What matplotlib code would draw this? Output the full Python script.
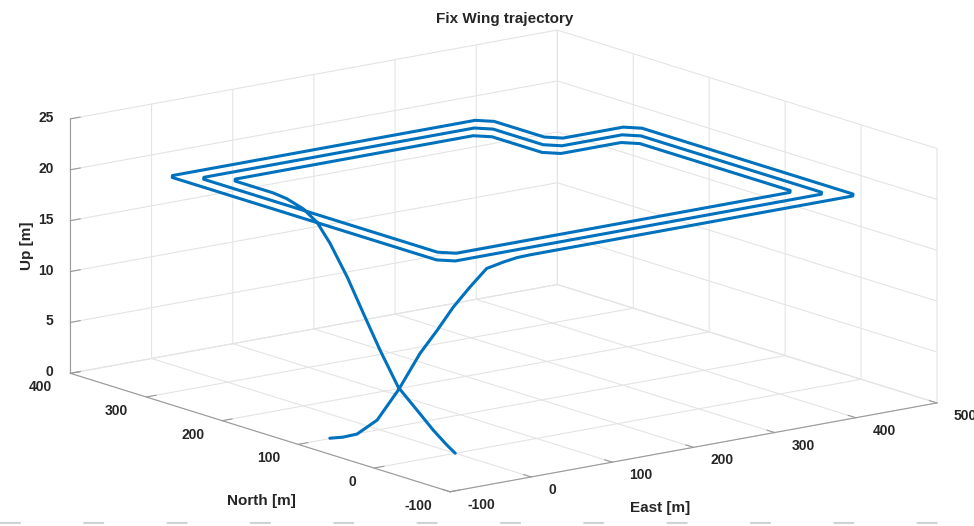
import numpy as np
import matplotlib
matplotlib.use('Agg')
from matplotlib import pyplot as plt
from matplotlib.lines import Line2D
from matplotlib.ticker import NullFormatter

# Fix wing trajectory: take-off climb, three nested laps at cruise height, landing descent
# East / North / Up in metres

climb_east = [-60, -53.6, -46.9, -37.2, -26.6, -16.4, -8.2, -0.5, 7.5, 15.7, 22, 32, 45]
climb_north = [101, 90.4, 79.3, 63.1, 45.6, 28.7, 15.1, 2.2, -11.1, -24.6, -40, -47, -50]
climb_up = [0, 0.26, 0.72, 2.33, 5.64, 9.4, 11.84, 14.3, 16.46, 18.5, 19.4, 19.85, 20]

# lap corners, each corner cut a little as the plane turns
cruise_up = 20
outer_east = [443, 448, 448, 436, 362, 350, 350, 338, -35, -40, -40, -28]
outer_north = [-50, -45, 233, 245, 245, 257, 323, 335, 335, 330, -18, -30]
middle_east = [423, 428, 428, 416, 342, 330, 330, 318, -15, -20, -20, -8]
middle_north = [-30, -25, 213, 225, 225, 237, 303, 315, 315, 310, 2, -10]
inner_east = [403, 408, 408, 396, 322, 310, 310, 298, 5, 0, 0]
inner_north = [-10, -5, 193, 205, 205, 217, 283, 295, 295, 290, 240]

descent_east = [0, 0, 0, 0, 0, 0, 0, 0, 0, 0, 0, 0]
descent_north = [222, 200, 182, 165, 142, 121, 99, 75, 50, 29, 11, 0]
descent_up = [19.85, 19.35, 18.45, 16.8, 13.97, 10.93, 7.82, 4.74, 3.04, 1.6, 0.55, 0]

east_ticks = [-100, 0, 100, 200, 300, 400, 500]
north_ticks = [-100, 0, 100, 200, 300, 400]
up_ticks = [0, 5, 10, 15, 20, 25]


def build_path():
    laps_e = outer_east + middle_east + inner_east
    laps_n = outer_north + middle_north + inner_north
    e = climb_east + laps_e + descent_east
    n = climb_north + laps_n + descent_north
    u = climb_up + [cruise_up] * len(laps_e) + descent_up
    return e, n, u


plt.rcParams['font.family'] = ['Liberation Sans', 'DejaVu Sans']
plt.rcParams['font.weight'] = 'bold'
plt.rcParams['axes.unicode_minus'] = False

W, H = 974, 526
fig = plt.figure(figsize=(W / 100, H / 100), dpi=100)
ax = fig.add_axes([0.05, 0.0, 0.9, 1.0], projection='3d', proj_type='ortho')
ax.view_init(elev=13.8, azim=-127.4)
ax.set_xlim(-100, 500)
ax.set_ylim(-100, 400)
ax.set_zlim(0, 25)
ax.set_box_aspect((613, 625, 262))

e, n, u = build_path()
ax.plot(e, n, u, color='#0072BD', lw=2.2, solid_joinstyle='round', solid_capstyle='round')

ax.set_xticks(east_ticks)
ax.set_yticks(north_ticks)
ax.set_zticks(up_ticks)
for axis in (ax.xaxis, ax.yaxis, ax.zaxis):
    axis.set_pane_color((1, 1, 1, 0))
    axis.pane.set_edgecolor('#e2e2e2')
    axis.line.set_color('#9a9a9a')
    axis.line.set_linewidth(0.8)
    axis._axinfo['grid'].update(color='#e4e4e4', linewidth=0.8)
    axis._axinfo['tick'].update(inward_factor=0.0, outward_factor=0.25)
    axis.set_major_formatter(NullFormatter())
    for t in axis.get_ticklines():
        t.set_color('#9a9a9a')

# put the projected box where the reference has it
fig.canvas.draw()


def px(x, y, z):
    v = ax.get_proj() @ np.array([x, y, z, 1.0])
    return ax.transData.transform((v[0] / v[3], v[1] / v[3]))


p0 = px(-100, -100, 0)
p1 = px(500, -100, 0)
t0 = np.array([450, H - 491.75])
t1 = np.array([937, H - 403])
f = np.hypot(*(t1 - t0)) / np.hypot(*(p1 - p0))
bb = ax.get_position()
ll = np.array([bb.x0 * W, bb.y0 * H])
new_ll = t0 - (p0 - ll) * f
ax.set_position([new_ll[0] / W, new_ll[1] / H, bb.width * f, bb.height * f])
fig.canvas.draw()

# tick labels placed beside the ticks, as in the MATLAB figure
tick_style = dict(fontsize=10, fontweight='bold', color='#262626', va='center')
for v in east_ticks:
    p = px(v, -100, 0)
    fig.text((p[0] + 17) / W, (p[1] - 13) / H, str(v), ha='left', **tick_style)
for v in north_ticks:
    p = px(-100, v, 0)
    fig.text((p[0] - 18) / W, (p[1] - 14) / H, str(v), ha='right', **tick_style)
for v in up_ticks:
    p = px(-100, 400, v)
    fig.text((p[0] - 17) / W, (p[1] + 1) / H, str(v), ha='right', **tick_style)

fig.text(505 / W, 1 - 19 / H, 'Fix Wing trajectory', ha='center', va='center',
         fontsize=11, fontweight='bold', color='#262626')
fig.text(261 / W, 1 - 501 / H, 'North [m]', ha='center', va='center',
         fontsize=11, fontweight='bold', color='#262626')
fig.text(660 / W, 1 - 508 / H, 'East [m]', ha='center', va='center',
         fontsize=11, fontweight='bold', color='#262626')
fig.text(27 / W, 1 - 246 / H, 'Up [m]', ha='center', va='center', rotation=90,
         fontsize=11, fontweight='bold', color='#262626')

fig.add_artist(Line2D([0, 1], [1 - 523 / H, 1 - 523 / H], transform=fig.transFigure,
                      color='#d2d2d2', lw=1.5, dashes=(10, 30)))

fig.savefig('out.png', dpi=100)
